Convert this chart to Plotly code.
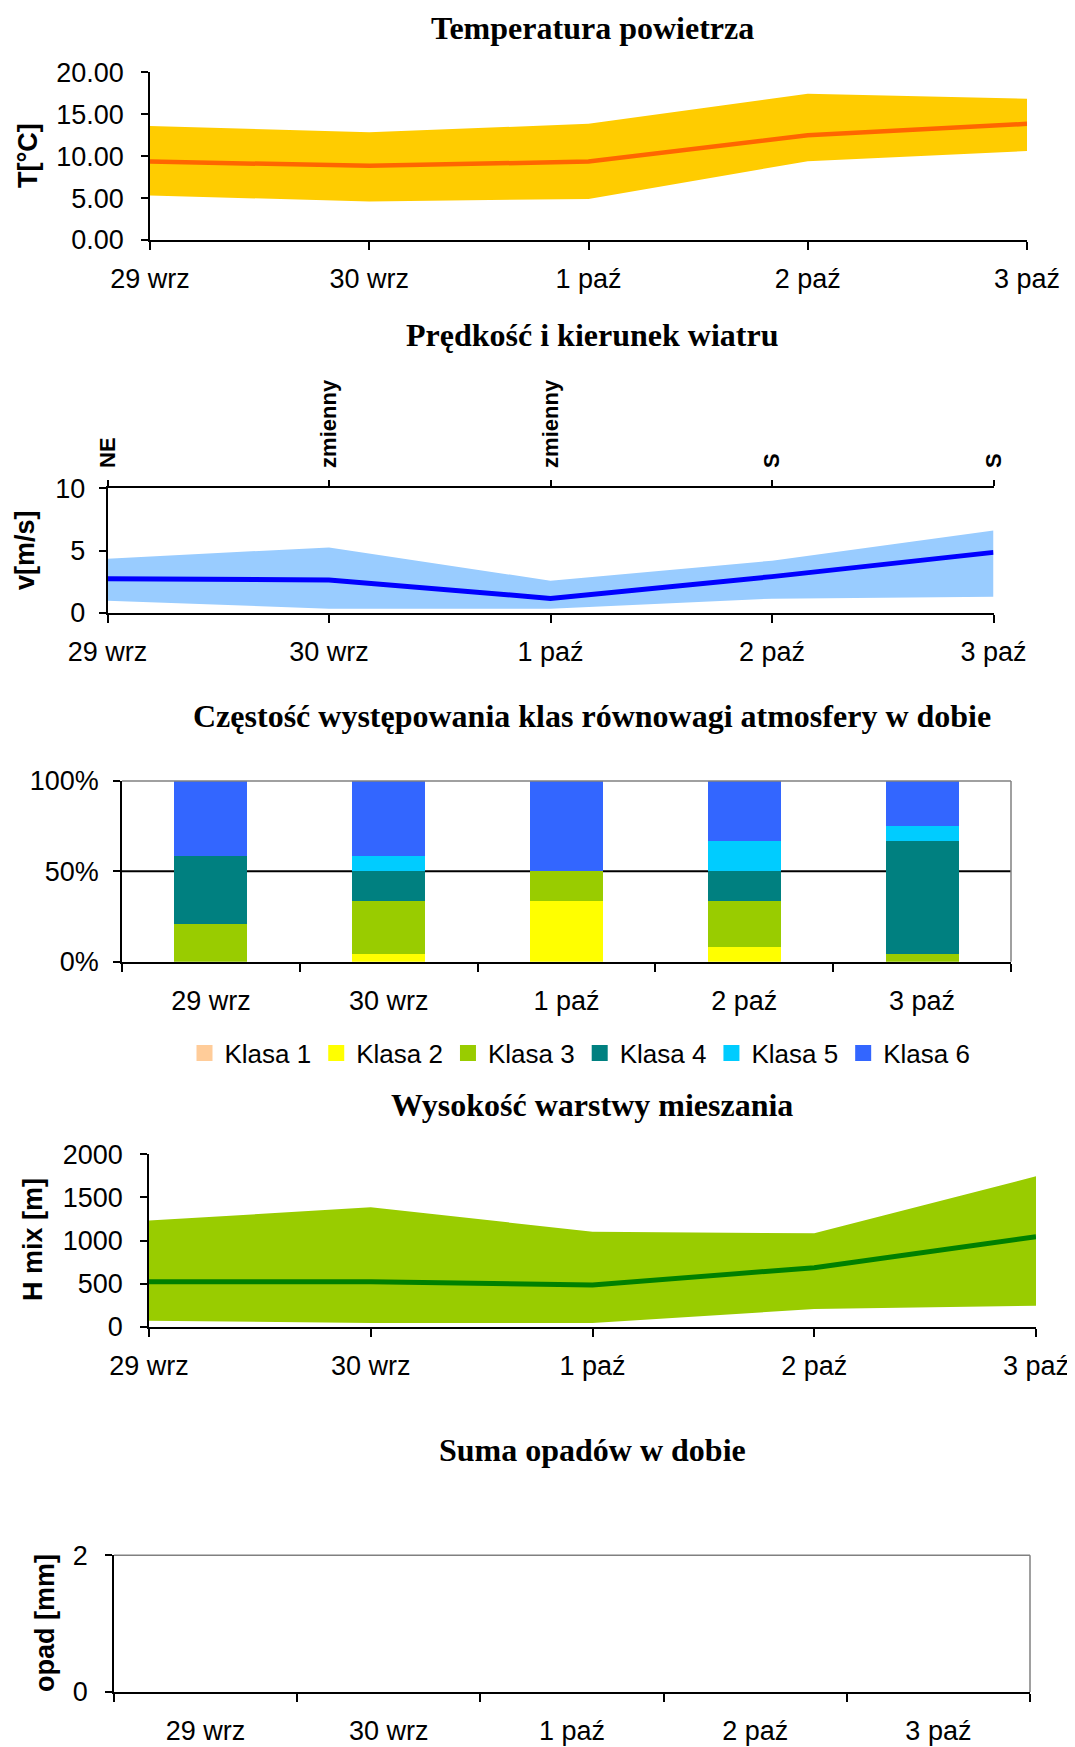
import plotly.graph_objects as go

# The page body has an 8px margin, so the figure is sized to fill the rest of the window.
OFF = 8
W, H = 1075 - OFF, 1747 - OFF

# ---------------- data ----------------
days = ["29 wrz", "30 wrz", "1 paź", "2 paź", "3 paź"]

temp_min = [5.3, 4.6, 4.9, 9.4, 10.6]
temp_mean = [9.35, 8.85, 9.35, 12.5, 13.85]
temp_max = [13.6, 12.85, 13.85, 17.45, 16.85]

wind_dir = ["NE", "zmienny", "zmienny", "S", "S"]
wind_min = [0.97, 0.32, 0.32, 1.13, 1.29]
wind_mean = [2.73, 2.63, 1.15, 2.9, 4.85]
wind_max = [4.34, 5.25, 2.57, 4.18, 6.6]

class_names = ["Klasa 1", "Klasa 2", "Klasa 3", "Klasa 4", "Klasa 5", "Klasa 6"]
klasa1 = [0, 0, 0, 0, 0]
klasa2 = [0, 4.17, 33.33, 8.33, 0]
klasa3 = [20.83, 29.17, 16.67, 25.0, 4.17]
klasa4 = [37.5, 16.67, 0, 16.67, 62.5]
klasa5 = [0, 8.33, 0, 16.67, 8.33]
klasa6 = [41.67, 41.67, 50.0, 33.33, 25.0]

hmix_min = [73, 46, 46, 208, 247]
hmix_mean = [525, 525, 486, 687, 1046]
hmix_max = [1232, 1386, 1104, 1085, 1745]

precip = [0, 0, 0, 0, 0]

# ---------------- style ----------------
SANS = "Liberation Sans, Arial, sans-serif"
TICK_FONT = dict(family=SANS, size=27, color="black")
TITLE_FONT = dict(family="Liberation Serif, Times New Roman, serif", size=32, color="black", weight="bold")
YT_FONT = dict(family=SANS, size=27, color="black", weight="bold")
class_colors = ["#FFCC99", "#FFFF00", "#99CC00", "#008080", "#00CCFF", "#3366FF"]


def px_x(x):
    return (x - OFF) / W


def px_y(y):
    return 1 - (y - OFF) / H


def xd(l, r):
    return [px_x(l), px_x(r)]


def yd(top, bottom):
    return [px_y(bottom), px_y(top)]


fig = go.Figure()

# chart 1: temperature
fig.add_trace(go.Scatter(x=days, y=temp_min, mode="lines", line=dict(width=0),
                         xaxis="x", yaxis="y", showlegend=False, hoverinfo="skip"))
fig.add_trace(go.Scatter(x=days, y=temp_max, mode="lines", line=dict(width=0),
                         fill="tonexty", fillcolor="#FFCC00",
                         xaxis="x", yaxis="y", showlegend=False, hoverinfo="skip"))
fig.add_trace(go.Scatter(x=days, y=temp_mean, mode="lines", line=dict(color="#FF6600", width=4.5),
                         xaxis="x", yaxis="y", showlegend=False))

# chart 2: wind
fig.add_trace(go.Scatter(x=days, y=wind_min, mode="lines", line=dict(width=0),
                         xaxis="x2", yaxis="y2", showlegend=False, hoverinfo="skip"))
fig.add_trace(go.Scatter(x=days, y=wind_max, mode="lines", line=dict(width=0),
                         fill="tonexty", fillcolor="#99CCFF",
                         xaxis="x2", yaxis="y2", showlegend=False, hoverinfo="skip"))
fig.add_trace(go.Scatter(x=days, y=wind_mean, mode="lines", line=dict(color="#0000FF", width=5),
                         xaxis="x2", yaxis="y2", showlegend=False))
fig.add_trace(go.Scatter(x=days, y=wind_mean, mode="lines", line=dict(width=0),
                         xaxis="x6", yaxis="y2", showlegend=False, hoverinfo="skip"))

# chart 3: stability classes
for name, vals, col in zip(class_names, [klasa1, klasa2, klasa3, klasa4, klasa5, klasa6], class_colors):
    fig.add_trace(go.Bar(x=days, y=vals, name=name, marker=dict(color=col, line=dict(width=0)),
                         xaxis="x3", yaxis="y3", showlegend=False, legendgroup=name))
for name, col in zip(class_names, class_colors):
    # legend swatches only
    fig.add_trace(go.Scatter(x=[None], y=[None], mode="markers", name=name, legendgroup=name,
                             marker=dict(symbol="square", size=17, color=col),
                             xaxis="x3", yaxis="y3"))

# chart 4: mixing height
fig.add_trace(go.Scatter(x=days, y=hmix_min, mode="lines", line=dict(width=0),
                         xaxis="x4", yaxis="y4", showlegend=False, hoverinfo="skip"))
fig.add_trace(go.Scatter(x=days, y=hmix_max, mode="lines", line=dict(width=0),
                         fill="tonexty", fillcolor="#99CC00",
                         xaxis="x4", yaxis="y4", showlegend=False, hoverinfo="skip"))
fig.add_trace(go.Scatter(x=days, y=hmix_mean, mode="lines", line=dict(color="#008000", width=5),
                         xaxis="x4", yaxis="y4", showlegend=False))

# chart 5: precipitation
fig.add_trace(go.Bar(x=days, y=precip, marker=dict(color="#3366FF"), xaxis="x5", yaxis="y5",
                     showlegend=False))

common_x = dict(type="category", showline=True, linecolor="black", linewidth=2,
                ticks="outside", ticklen=8, tickwidth=1.5, tickcolor="black",
                tickfont=TICK_FONT, showgrid=False, zeroline=False, ticklabelstandoff=6,
                fixedrange=True, automargin=False)
common_y = dict(showline=True, linecolor="black", linewidth=1.5,
                ticks="outside", ticklen=7, tickwidth=1.5, tickcolor="black",
                tickfont=TICK_FONT, showgrid=False, zeroline=False, ticklabelstandoff=12,
                fixedrange=True, automargin=False)

fig.update_layout(
    width=W, height=H,
    margin=dict(l=0, r=0, t=0, b=0, autoexpand=False),
    paper_bgcolor="white", plot_bgcolor="white",
    barmode="stack", bargap=0.59,
    hovermode=False,
    xaxis=dict(common_x, domain=xd(150, 1027), anchor="y", range=[0, 4]),
    yaxis=dict(common_y, domain=yd(72.3, 240), anchor="x", range=[0, 20], dtick=5, tickformat=".2f"),
    xaxis2=dict(common_x, domain=xd(107.5, 993.5), anchor="y2", range=[0, 4]),
    yaxis2=dict(common_y, domain=yd(488.3, 612.7), anchor="x2", range=[0, 10], dtick=5,
                ticklabelstandoff=8),
    xaxis6=dict(common_x, overlaying="x2", anchor="y2", side="top", range=[0, 4],
                tickvals=days, ticktext=wind_dir, tickangle=-90, ticklen=6,
                tickfont=dict(family=SANS, size=22, color="black", weight="bold"),
                ticklabelstandoff=8),
    xaxis3=dict(common_x, domain=xd(122, 1011), anchor="y3", tickson="boundaries",
                ticklabelstandoff=14),
    yaxis3=dict(common_y, domain=yd(781, 961.7), anchor="x3", range=[0, 100],
                tickvals=[0, 50, 100], ticktext=["0%", "50%", "100%"], ticklabelstandoff=9),
    xaxis4=dict(common_x, domain=xd(149, 1036), anchor="y4", range=[0, 4]),
    yaxis4=dict(common_y, domain=yd(1154.3, 1327), anchor="x4", range=[0, 2000], dtick=500),
    xaxis5=dict(common_x, domain=xd(114, 1030), anchor="y5", tickson="boundaries",
                ticklabelstandoff=14),
    yaxis5=dict(common_y, domain=yd(1555.3, 1692), anchor="x5", range=[0, 2], dtick=2),
    legend=dict(orientation="h", x=px_x(580), xanchor="center", y=px_y(1053), yanchor="middle",
                font=dict(family=SANS, size=26, color="black"),
                traceorder="normal", bgcolor="rgba(0,0,0,0)", itemwidth=30),
)

# plot-area borders and 50% gridline
shapes = []
for ax in ["3", "5"]:
    shapes.append(dict(type="line", xref=f"x{ax} domain", yref=f"y{ax} domain",
                       x0=0, x1=1, y0=1, y1=1, line=dict(color="#808080", width=1.5), layer="above"))
    shapes.append(dict(type="line", xref=f"x{ax} domain", yref=f"y{ax} domain",
                       x0=1, x1=1, y0=0, y1=1, line=dict(color="#808080", width=1.5), layer="above"))
shapes.append(dict(type="line", xref="x3 domain", yref="y3", x0=0, x1=1, y0=50, y1=50,
                   line=dict(color="black", width=2), layer="below"))
fig.update_layout(shapes=shapes)

# titles
ann = [dict(text="Temperatura powietrza", xref="paper", yref="paper", x=px_x(592), y=1,
            xanchor="center", yanchor="top", showarrow=False, font=TITLE_FONT)]
titles = [
    ("Prędkość i kierunek wiatru", 335),
    ("Częstość występowania klas równowagi atmosfery w dobie", 716),
    ("Wysokość warstwy mieszania", 1105),
    ("Suma opadów w dobie", 1450),
]
for t, yc in titles:
    ann.append(dict(text=t, xref="paper", yref="paper", x=px_x(592), y=px_y(yc),
                    xanchor="center", yanchor="middle", showarrow=False, font=TITLE_FONT))

ytitles = [
    ("T[°C]", 28, 156),
    ("v[m/s]", 25, 550),
    ("H mix [m]", 33, 1240),
    ("opad [mm]", 45, 1623),
]
for t, xc, yc in ytitles:
    ann.append(dict(text=t, xref="paper", yref="paper", x=px_x(xc), y=px_y(yc),
                    xanchor="center", yanchor="middle", showarrow=False, textangle=-90, font=YT_FONT))
fig.update_layout(annotations=ann)

fig.write_html("out.html")
